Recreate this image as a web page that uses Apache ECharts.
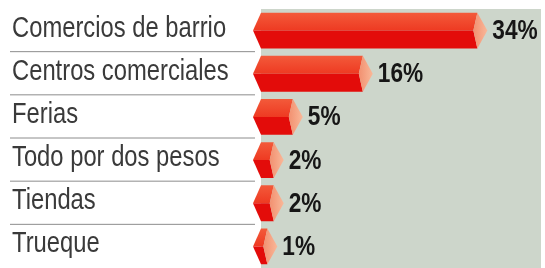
<!DOCTYPE html>
<html>
<head>
<meta charset="utf-8">
<script src="https://cdn.jsdelivr.net/npm/echarts@6/dist/echarts.min.js"></script>
<style>
  html, body { margin: 0; padding: 0; background: #fff; }
  #chart { width: 545px; height: 268px; }
</style>
</head>
<body>
<div id="chart"></div>
<script>
    var FONT = '"Liberation Sans", Arial, sans-serif';

    var categories = ['Comercios de barrio', 'Centros comerciales', 'Ferias', 'Todo por dos pesos', 'Tiendas', 'Trueque'];
    var shares = [34, 16, 5, 2, 2, 1];

    var myChart = echarts.init(document.getElementById('chart'));

    // hexagonal prism bar + its row label and separator
    function renderBar(params, api) {
        var v = api.value(0);
        var c = api.value(1);
        var end = api.coord([v, c]);
        var start = api.coord([0, c]);
        var band = api.size([0, 1])[1];
        var h = band * 0.83;
        var mid = end[1];
        var top = mid - h / 2;
        var bot = mid + h / 2;
        var x0 = start[0];
        var xe = end[0];

        var children = [
            {
                type: 'polygon',
                shape: { points: [[x0, top], [xe, top], [xe - 4, mid], [x0 - 8, mid]] },
                style: {
                    fill: new echarts.graphic.LinearGradient(0, 0, 0, 1, [
                        { offset: 0, color: '#f35a3a' },
                        { offset: 1, color: '#ee3a22' }
                    ])
                }
            },
            {
                type: 'polygon',
                shape: { points: [[x0 - 8, mid], [xe - 4, mid], [xe, bot], [x0, bot]] },
                style: { fill: '#e30c0a' }
            },
            {
                type: 'polygon',
                shape: { points: [[xe, top], [xe + 10, mid], [xe, bot], [xe - 4, mid]] },
                style: {
                    fill: new echarts.graphic.LinearGradient(0, 0, 1, 0, [
                        { offset: 0, color: '#f29070' },
                        { offset: 1, color: '#f9b899' }
                    ])
                }
            },
            {
                type: 'text',
                x: xe + 15,
                y: mid + 1,
                scaleX: 0.84,
                style: {
                    text: v + '%',
                    x: 0,
                    y: 0,
                    align: 'left',
                    verticalAlign: 'middle',
                    font: 'bold 27px ' + FONT,
                    fill: '#161616'
                }
            },
            {
                type: 'text',
                x: 12,
                y: mid - 2,
                scaleX: 0.82,
                style: {
                    text: categories[c],
                    x: 0,
                    y: 0,
                    align: 'left',
                    verticalAlign: 'middle',
                    font: '29px ' + FONT,
                    fill: '#3a3a3a'
                }
            }
        ];

        if (c < categories.length - 1) {
            children.push({
                type: 'line',
                shape: { x1: 10, y1: mid + band / 2 - 0.5, x2: x0 - 6, y2: mid + band / 2 - 0.5 },
                style: { stroke: '#8c8c8c', lineWidth: 1 }
            });
        }

        return { type: 'group', children: children };
    }

    var option = {
        animation: false,
        grid: {
            left: 261,
            top: 9,
            width: 280,
            height: 266.4,
            show: true,
            backgroundColor: '#cdd6cb',
            borderWidth: 0
        },
        xAxis: {
            type: 'value',
            min: 0,
            max: 44,
            show: false
        },
        yAxis: {
            type: 'category',
            data: categories,
            inverse: true,
            axisLine: { show: false },
            axisTick: { show: false },
            splitLine: { show: false },
            axisLabel: { show: false }
        },
        series: [
            {
                type: 'custom',
                renderItem: renderBar,
                encode: { x: 0, y: 1 },
                data: shares.map(function (v, i) { return [v, i]; })
            }
        ]
    };

    myChart.setOption(option);
</script>
</body>
</html>
